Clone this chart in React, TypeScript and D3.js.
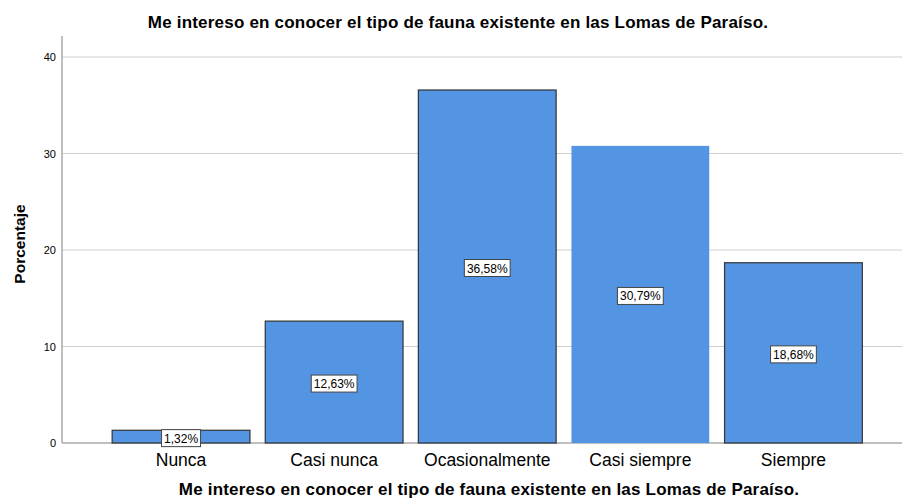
import React from "react";
import * as d3 from "d3";

const categories = ["Nunca", "Casi nunca", "Ocasionalmente", "Casi siempre", "Siempre"];
const values = [1.32, 12.63, 36.58, 30.79, 18.68];
const valueLabels = ["1,32%", "12,63%", "36,58%", "30,79%", "18,68%"];
const yTicks = [0, 10, 20, 30, 40];
const title = "Me intereso en conocer el tipo de fauna existente en las Lomas de Paraíso.";
const yTitle = "Porcentaje";

export default function App() {
  const W = 902, H = 499;
  const x0 = 62, yBase = 443, yTopAxis = 36;
  const y = d3.scaleLinear().domain([0, 40]).range([yBase, 57]);
  const x = d3.scaleBand().domain(categories).range([104.5, 870]).paddingInner(0.1).paddingOuter(0.05);
  const font = "Arial, 'Liberation Sans', sans-serif";
  return (
    <svg width={W} height={H} style={{ position: "absolute", left: 0, top: 0 }} fontFamily={font}>
      <rect width={W} height={H} fill="#fff" />
      <text x={458} y={28} textAnchor="middle" fontSize={17} letterSpacing={0.2} fontWeight="bold">{title}</text>
      {yTicks.filter(t => t > 0).map(t => (
        <line key={t} x1={x0} x2={W} y1={y(t)} y2={y(t)} stroke="#cfcfcf" strokeWidth={1} />
      ))}
      {yTicks.map(t => (
        <text key={"l" + t} x={56} y={y(t) + 4} textAnchor="end" fontSize={11}>{t}</text>
      ))}
      <line x1={x0} x2={x0} y1={yTopAxis} y2={yBase} stroke="#aaa" strokeWidth={1.5} />
      <line x1={x0} x2={W} y1={yBase} y2={yBase} stroke="#aaa" strokeWidth={1.5} />
      {categories.map((c, i) => {
        const bx = x(c)!;
        const bw = x.bandwidth();
        const top = y(values[i]);
        const cx = bx + bw / 2;
        const my = y(values[i] / 2) + 1.5;
        const lw = valueLabels[i].length * 6.8 + 5;
        return (
          <g key={c}>
            <rect x={bx} y={top} width={bw} height={yBase - top} fill="#5394e3"
              stroke={i === 3 ? "none" : "#333"} strokeWidth={1.2} />
            <rect x={cx - lw / 2} y={my - 8.5} width={lw} height={17} fill="#fff" stroke="#444" strokeWidth={1} />
            <text x={cx} y={my + 4.5} textAnchor="middle" fontSize={12}>{valueLabels[i]}</text>
            <text x={cx} y={466} textAnchor="middle" fontSize={17.5}>{c}</text>
          </g>
        );
      })}
      <text transform={`translate(25,244) rotate(-90)`} textAnchor="middle" fontSize={15.5} fontWeight="bold">{yTitle}</text>
      <text x={489} y={494.5} textAnchor="middle" fontSize={17} letterSpacing={0.2} fontWeight="bold">{title}</text>
    </svg>
  );
}
